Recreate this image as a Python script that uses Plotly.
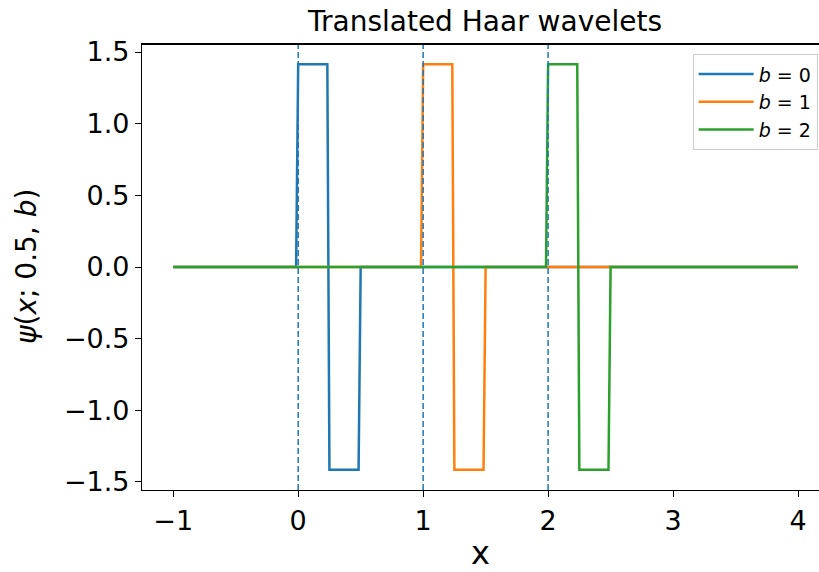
import plotly.graph_objects as go

# Translation parameters and the sampled Haar wavelet vertices (scale a = 0.5)
b_values = [0, 1, 2]
series_names = ["<i>b</i> = 0", "<i>b</i> = 1", "<i>b</i> = 2"]
colors = ["#1f77b4", "#ff7f0e", "#2ca02c"]

x_b0 = [-1.0, -0.0167, 0.0, 0.2333, 0.25, 0.4833, 0.5, 4.0]
y_b0 = [0.0, 0.0, 1.414, 1.414, -1.414, -1.414, 0.0, 0.0]

x_b1 = [-1.0, 0.9833, 1.0, 1.2333, 1.25, 1.4833, 1.5, 4.0]
y_b1 = [0.0, 0.0, 1.414, 1.414, -1.414, -1.414, 0.0, 0.0]

x_b2 = [-1.0, 1.9833, 2.0, 2.2333, 2.25, 2.4833, 2.5, 4.0]
y_b2 = [0.0, 0.0, 1.414, 1.414, -1.414, -1.414, 0.0, 0.0]

x_ticks = [-1, 0, 1, 2, 3, 4]
y_ticks = [-1.5, -1.0, -0.5, 0.0, 0.5, 1.0, 1.5]

FONT = "DejaVu Sans"
W, H = 819, 572
ML, MR, MT, MB = 142, 0, 44, 82
PW, PH = W - ML - MR, H - MT - MB

fig = go.Figure()

for xs, ys, name, color in zip([x_b0, x_b1, x_b2], [y_b0, y_b1, y_b2], series_names, colors):
    fig.add_trace(go.Scatter(x=xs, y=ys, mode="lines", name=name,
                             line=dict(color=color, width=2.5)))

# dashed markers at each translation
for b in b_values:
    fig.add_shape(type="line", x0=b, x1=b, y0=0, y1=1, xref="x", yref="y domain",
                  line=dict(color="#1f77b4", width=1.5, dash="6px,3px"), layer="above")

# top frame line
fig.add_shape(type="line", x0=0, x1=1, y0=1, y1=1, xref="x domain", yref="y domain",
              line=dict(color="black", width=2), layer="above")

fig.update_layout(
    width=W, height=H,
    margin=dict(l=ML, r=MR, t=MT, b=MB),
    plot_bgcolor="white", paper_bgcolor="white",
    font=dict(family=FONT, color="black"),
    title=dict(text="Translated Haar wavelets", x=485 / W, xanchor="center",
               y=1 - 21 / H, yanchor="middle", yref="container", xref="container",
               font=dict(size=28, family=FONT, color="black")),
    showlegend=True,
    legend=dict(x=0.998, xanchor="right", y=0.977, yanchor="top",
                bgcolor="white", bordercolor="#cccccc", borderwidth=1,
                font=dict(size=19, family=FONT), tracegroupgap=0, itemwidth=55),
    xaxis=dict(range=[-1.25, 4.168], tickvals=x_ticks,
               ticktext=["\u22121", "0", "1", "2", "3", "4"],
               showgrid=False, zeroline=False, showline=True, linecolor="black",
               linewidth=1.3, mirror=True, ticks="outside", ticklen=6, tickwidth=1.3,
               tickcolor="black", tickfont=dict(size=27, family=FONT)),
    yaxis=dict(range=[-1.556, 1.556], tickvals=y_ticks,
               ticktext=["\u22121.5", "\u22121.0", "\u22120.5", "0.0", "0.5", "1.0", "1.5"],
               showgrid=False, zeroline=False, showline=True, linecolor="black",
               linewidth=1.3, ticks="outside", ticklen=6, tickwidth=1.3,
               tickcolor="black", tickfont=dict(size=27, family=FONT)),
    annotations=[
        dict(text="x", x=0.5, xref="paper", y=(MT + PH - 553) / PH, yref="paper",
             xanchor="center", yanchor="middle", showarrow=False,
             font=dict(size=32, family=FONT, color="black")),
        dict(text="<i>\u03c8</i>(<i>x</i>; 0.5, <i>b</i>)", x=(26 - ML) / PW, xref="paper",
             y=0.5, yref="paper", xanchor="center", yanchor="middle", textangle=-90,
             showarrow=False, font=dict(size=28, family=FONT, color="black")),
    ],
)

fig.write_html("out.html")
